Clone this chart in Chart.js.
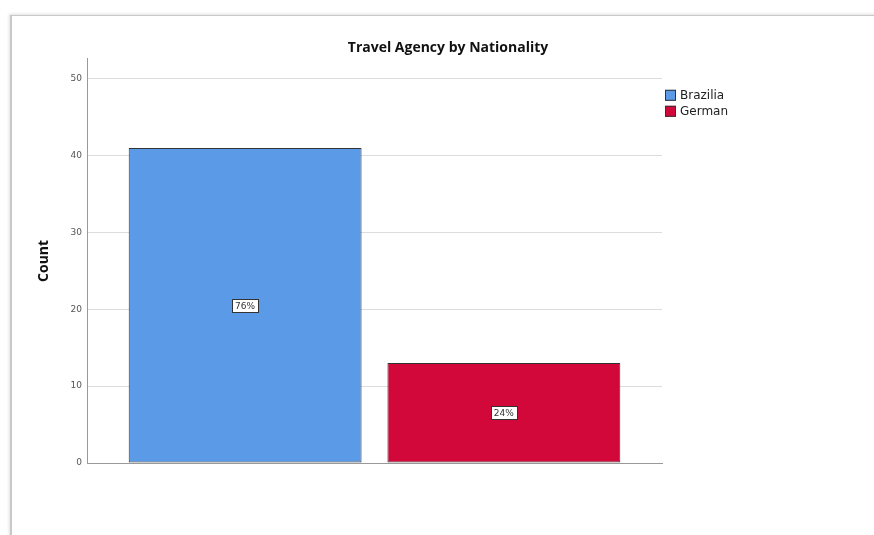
<!DOCTYPE html>
<html>
<head>
<meta charset="utf-8">
<script src="https://cdn.jsdelivr.net/npm/chart.js@4"></script>
<style>
    html, body { margin: 0; padding: 0; background: #fff; }
    #wrap { position: relative; width: 874px; height: 535px; overflow: hidden; }
    #frame {
        position: absolute; left: 10px; top: 15px; width: 900px; height: 560px;
        border-top: 1px solid #c8c8c8; border-left: 2px solid #c8c8c8;
        box-shadow: -1px -1px 3px rgba(0,0,0,0.12);
    }
    canvas { position: absolute; left: 0; top: 0; }
</style>
</head>
<body>
<div id="wrap">
    <div id="frame"></div>
    <canvas id="chart" width="874" height="535"></canvas>
</div>
<script>
// Chart data
const categories = ['Travel Agency'];
const seriesLabels = ['Brazilia', 'German'];
const seriesValues = [[41], [13]];
const seriesColors = ['#5b9ae6', '#d3083a'];
const yTicks = [0, 10, 20, 30, 40, 50];

const total = seriesValues.reduce((s, v) => s + v[0], 0);

/**
 * Draws SPSS-style percentage boxes in the middle of each bar
 */
const percentLabels = {
    id: 'percentLabels',
    afterDatasetsDraw(chart) {
        const ctx = chart.ctx;
        ctx.save();
        ctx.font = '9px "DejaVu Sans"';
        ctx.textAlign = 'center';
        ctx.textBaseline = 'middle';
        chart.data.datasets.forEach((ds, i) => {
            chart.getDatasetMeta(i).data.forEach((bar, j) => {
                const text = Math.round(ds.data[j] / total * 100) + '%';
                const x = bar.x;
                const y = (bar.y + bar.base) / 2;
                const w = Math.round(ctx.measureText(text).width + 6);
                const h = 13;
                const bx = Math.round(x - w / 2) + 0.5;
                const by = Math.round(y - h / 2) + 0.5;
                ctx.fillStyle = '#fff';
                ctx.fillRect(bx, by, w, h);
                ctx.strokeStyle = '#333';
                ctx.lineWidth = 1;
                ctx.strokeRect(bx, by, w, h);
                ctx.fillStyle = '#333';
                ctx.fillText(text, x, y + 1);
            });
        });
        ctx.restore();
    }
};

/**
 * Simple legend at the top right of the plot area
 */
const sideLegend = {
    id: 'sideLegend',
    afterDraw(chart) {
        const ctx = chart.ctx;
        const left = chart.chartArea.right + 3;
        let top = chart.chartArea.top + 31;
        ctx.save();
        ctx.font = '12px "DejaVu Sans"';
        ctx.textBaseline = 'middle';
        chart.data.datasets.forEach((ds) => {
            ctx.fillStyle = ds.backgroundColor;
            ctx.fillRect(left, top, 11, 11);
            ctx.strokeStyle = '#333';
            ctx.lineWidth = 1;
            ctx.strokeRect(left + 0.5, top + 0.5, 10, 10);
            ctx.fillStyle = '#222';
            ctx.fillText(ds.label, left + 15, top + 6);
            top += 16;
        });
        ctx.restore();
    }
};

new Chart(document.getElementById('chart'), {
    type: 'bar',
    data: {
        labels: categories,
        datasets: seriesLabels.map((label, i) => ({
            label: label,
            data: seriesValues[i],
            backgroundColor: seriesColors[i],
            borderColor: '#333',
            borderWidth: 1,
            borderSkipped: false,
            categoryPercentage: 0.9,
            barPercentage: 0.9
        }))
    },
    options: {
        responsive: false,
        animation: false,
        layout: { padding: { top: 40, left: 36, right: 14, bottom: 64 } },
        plugins: {
            legend: { display: false },
            tooltip: { enabled: false },
            title: {
                display: true,
                text: 'Travel Agency by Nationality',
                color: '#111',
                font: { family: 'Open Sans', size: 14, weight: 'bold' },
                padding: { top: 0, bottom: 2 }
            }
        },
        scales: {
            x: {
                ticks: { display: false },
                grid: { display: false },
                border: { color: '#999', width: 1 }
            },
            y: {
                min: 0,
                max: 52.6,
                afterBuildTicks(scale) { scale.ticks = yTicks.map(v => ({ value: v })); },
                afterFit(scale) { scale.width = 51; },
                ticks: {
                    color: '#555',
                    font: { family: 'DejaVu Sans', size: 9 },
                    padding: 5
                },
                grid: { color: '#dcdcdc', drawTicks: false },
                border: { color: '#999', width: 1 },
                title: {
                    display: true,
                    text: 'Count',
                    color: '#111',
                    font: { family: 'Open Sans', size: 14, weight: 'bold' },
                    padding: 0
                }
            },
            // empty right-hand axis that reserves the legend space
            side: {
                position: 'right',
                afterFit(scale) { scale.width = 198; },
                ticks: { display: false },
                grid: { display: false },
                border: { display: false }
            }
        }
    },
    plugins: [percentLabels, sideLegend]
});
</script>
</body>
</html>
